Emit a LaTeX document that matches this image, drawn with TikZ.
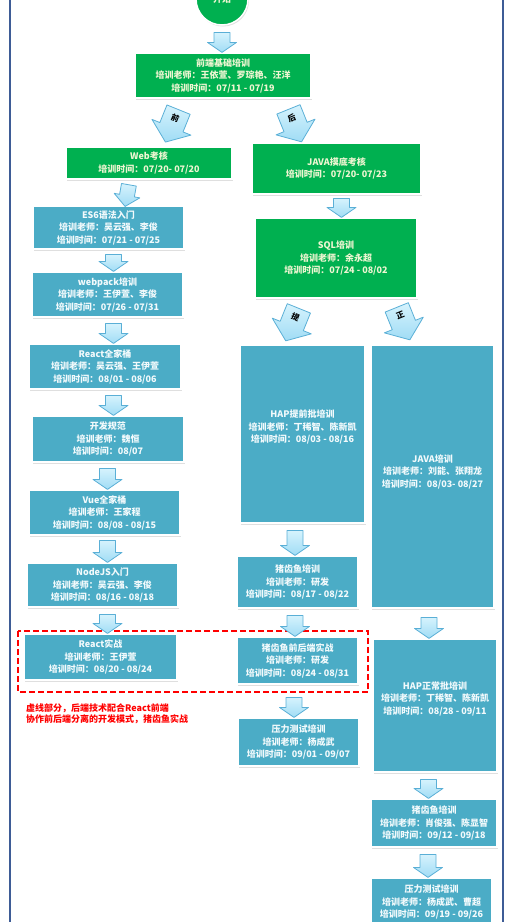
\documentclass[tikz,border=0pt]{standalone}
\usepackage{fontspec}
\newfontfamily\cjk{Noto Sans CJK SC}
\usetikzlibrary{calc,shadows}
\definecolor{bxgreen}{RGB}{0,176,80}
\definecolor{bxblue}{RGB}{75,172,198}
\definecolor{framebl}{RGB}{62,92,150}
\definecolor{arrfilla}{RGB}{214,243,253}
\definecolor{arrfillb}{RGB}{160,220,245}
\definecolor{arrline}{RGB}{90,175,214}
\definecolor{txtg}{RGB}{238,246,210}
\definecolor{txtb}{RGB}{242,250,252}
\tikzset{
 boxbase/.style={draw=white, line width=1.2pt, inner sep=0pt, align=center,
   font=\cjk\bfseries\fontsize{9}{12.5}\selectfont,
   drop shadow={shadow xshift=1pt, shadow yshift=-1.5pt, opacity=0.25}},
 greenbox/.style={boxbase, fill=bxgreen, text=txtg},
 bluebox/.style={boxbase, fill=bxblue, text=txtb},
 boxtext/.style={inner sep=0pt, align=center, font=\cjk\bfseries\fontsize{9}{12.5}\selectfont, text=txtb},
 sz/.style 2 args={minimum width=#1pt, minimum height=#2pt},
 blockarrow/.style={draw=arrline, line width=0.8pt, top color=arrfilla, bottom color=arrfillb, line join=round},
 arrlabel/.style={font=\cjk\bfseries\fontsize{8}{8}\selectfont, text=black, inner sep=0pt},
 notetext/.style={inner sep=0pt, align=left, font=\cjk\bfseries\fontsize{9}{11}\selectfont, text=red},
 groupline/.style={draw=red, line width=1.8pt, dash pattern=on 6pt off 3pt},
 frameline/.style={draw=framebl, line width=2pt}
}
% vertical block arrow: target node, x offset, length
\newcommand\varr[3]{%
 \path ($(#1.north)+(#2,0)$) coordinate (vtip);
 \begin{scope}[shift={(vtip)},x=1pt,y=1pt]
  \path[blockarrow] (-8,#3) -- (8,#3) -- (8,10) -- (14.5,10) -- (0,0) -- (-14.5,10) -- (-8,10) -- cycle;
 \end{scope}}
% tilted block arrow with label: source node, dx, dy, angle, label
\newcommand\tarr[5]{%
 \path ($(#1.south)+(#2,#3)$) coordinate (tmid);
 \begin{scope}[shift={(tmid)},x=1pt,y=1pt,rotate=#4]
  \path[blockarrow] (-12.5,17.5) -- (12.5,17.5) -- (12.5,-1.5) -- (21,-1.5) -- (0,-17.5) -- (-21,-1.5) -- (-12.5,-1.5) -- cycle;
  \node[arrlabel, rotate=#4] at (0,8.5) {#5};
 \end{scope}}
% small tilted arrow: source node, dx, dy, angle
\newcommand\sarr[4]{%
 \path ($(#1.south)+(#2,#3)$) coordinate (smid);
 \begin{scope}[shift={(smid)},x=1pt,y=1pt,rotate=#4]
  \path[blockarrow] (-7.5,11) -- (7.5,11) -- (7.5,0) -- (13,0) -- (0,-11) -- (-13,0) -- (-7.5,0) -- cycle;
 \end{scope}}
\begin{document}
\begin{tikzpicture}[x=1pt,y=-1pt]
\useasboundingbox (0,0) rectangle (529,922);
\clip (0,0) rectangle (529,922);
\draw[frameline] (9.5,0) -- (9.5,922);
\draw[frameline] (503,0) -- (503,922);

\node[circle, fill=bxgreen, draw=white, line width=1.5pt, minimum size=52pt, inner sep=0pt,
  text=txtg, font=\cjk\bfseries\fontsize{9}{12}\selectfont,
  drop shadow={shadow xshift=1pt, shadow yshift=-1.5pt, opacity=0.25}] (start) at (222,-1) {开始};

\node[greenbox, sz={176}{45}] (jc) at (223,75.5) {前端基础培训\\培训老师：王依萱、罗琮艳、汪洋\\培训时间：07/11 - 07/19};
\node[greenbox, sz={166}{32}] (web) at (149,163) {Web考核\\培训时间：07/20- 07/20};
\node[greenbox, sz={169}{51}] (javamd) at (336.5,168.5) {JAVA摸底考核\\培训时间：07/20- 07/23};
\node[greenbox, sz={162}{80}] (sql) at (336,258) {SQL培训\\培训老师：余永超\\培训时间：07/24 - 08/02};

\node[bluebox, sz={151}{43}] (es6) at (108.5,227.5) {ES6语法入门\\培训老师：吴云强、李俊\\培训时间：07/21 - 07/25};
\node[bluebox, sz={151}{45}] (webpack) at (107.5,294.5) {webpack培训\\培训老师：王伊萱、李俊\\培训时间：07/26 - 07/31};
\node[bluebox, sz={152}{45}] (reactqj) at (105,366.5) {React全家桶\\培训老师：吴云强、王伊萱\\培训时间：08/01 - 08/06};
\node[bluebox, sz={152}{46}] (kf) at (108,439) {开发规范\\培训老师：魏恒\\培训时间：08/07};
\node[bluebox, sz={151}{45}] (vue) at (104.5,512.5) {Vue全家桶\\培训老师：王家程\\培训时间：08/08 - 08/15};
\node[bluebox, sz={151}{44}] (nodejs) at (102.5,585) {NodeJS入门\\培训老师：吴云强、李俊\\培训时间：08/16 - 08/18};
\node[bluebox, sz={153}{46}] (reactsz) at (100.5,657) {React实战\\培训老师：王伊萱\\培训时间：08/20 - 08/24};

\node[bluebox, sz={125}{178}] (hapa) at (302.5,434) {};
\node[boxtext] at ($(hapa.center)+(0,-7)$) {HAP提前批培训\\培训老师：丁稀智、陈新凯\\培训时间：08/03 - 08/16};
\node[bluebox, sz={121}{52}] (zca) at (297.5,582) {猪齿鱼培训\\培训老师：研发\\培训时间：08/17 - 08/22};
\node[bluebox, sz={121}{47}] (zcqh) at (297.5,660.5) {猪齿鱼前后端实战\\培训老师：研发\\培训时间：08/24 - 08/31};
\node[bluebox, sz={121}{48}] (yla) at (298.5,742) {压力测试培训\\培训老师：杨成武\\培训时间：09/01 - 09/07};

\node[bluebox, sz={123}{263}] (javapx) at (432.5,476.5) {};
\node[boxtext] at ($(javapx.center)+(0,-5)$) {JAVA培训\\培训老师：刘能、张翔龙\\培训时间：08/03- 08/27};
\node[bluebox, sz={124}{133}] (hapb) at (435,705.5) {};
\node[boxtext] at ($(hapb.center)+(0,-7)$) {HAP正常批培训\\培训老师：丁稀智、陈新凯\\培训时间：08/28 - 09/11};
\node[bluebox, sz={126}{48}] (zcb) at (434,823) {猪齿鱼培训\\培训老师：肖俊强、陈显智\\培训时间：09/12 - 09/18};
\node[bluebox, sz={121}{48}] (ylb) at (431.5,902) {压力测试培训\\培训老师：杨成武、曹超\\培训时间：09/19 - 09/26};

\draw[groupline] (18,631) rectangle (368,692);
\node[notetext, anchor=west] (note) at (26,713.5) {虚线部分，后端技术配合React前端\\协作前后端分离的开发模式，猪齿鱼实战};

% connectors
\varr{jc}{-1}{20}
\tarr{jc}{-51}{27.25}{-22}{前}
\tarr{jc}{72}{27}{22}{后}
\sarr{web}{-22}{16}{-10}
\varr{webpack}{6}{17}
\varr{reactqj}{8.5}{20}
\varr{kf}{5.5}{20}
\varr{vue}{3}{21}
\varr{nodejs}{5}{22}
\varr{reactsz}{7}{19}
\varr{sql}{5.5}{19}
\tarr{sql}{-43.7}{26}{-22}{提}
\tarr{sql}{67.3}{25}{22}{正}
\varr{zca}{-2.5}{25}
\varr{zcqh}{-2.5}{21}
\varr{yla}{-4.5}{20}
\varr{hapb}{-6}{21}
\varr{zcb}{-5.5}{19}
\varr{ylb}{-3.5}{23}
\end{tikzpicture}
\end{document}
